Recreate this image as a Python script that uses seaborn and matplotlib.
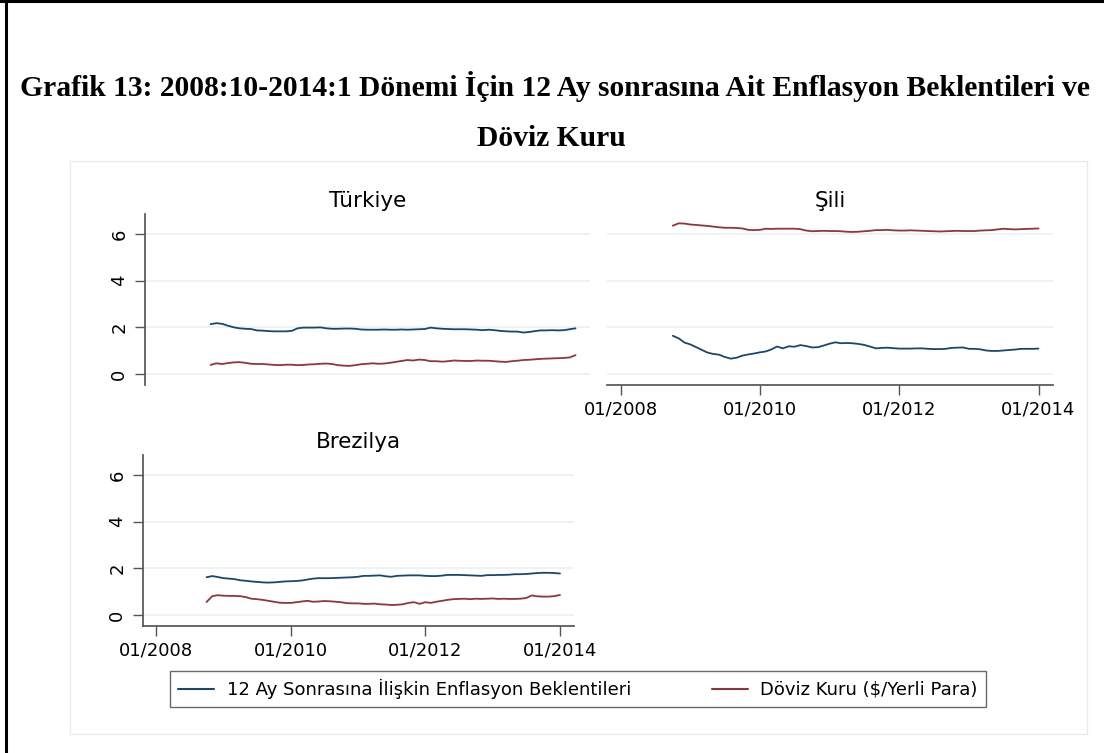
import matplotlib
matplotlib.use("Agg")
import matplotlib.pyplot as plt
from matplotlib.lines import Line2D
from matplotlib.patches import Rectangle
import pandas as pd
import seaborn as sns

# Monthly observations, 2008:10 - 2014:1
start_month = "2008-10-01"
end_month = "2014-01-01"

turkey_exp = [2.14, 2.18, 2.15, 2.07, 2.00, 1.96, 1.94, 1.93, 1.87, 1.86,
              1.84, 1.83, 1.83, 1.83, 1.85, 1.96, 1.99, 1.99, 1.99, 2.00,
              1.96, 1.94, 1.94, 1.95, 1.95, 1.94, 1.91, 1.90, 1.90, 1.90,
              1.91, 1.90, 1.90, 1.91, 1.90, 1.91, 1.92, 1.93, 1.99, 1.96,
              1.94, 1.93, 1.92, 1.92, 1.92, 1.91, 1.90, 1.88, 1.90, 1.88,
              1.85, 1.83, 1.82, 1.82, 1.78, 1.80, 1.84, 1.87, 1.87, 1.88,
              1.87, 1.88, 1.92, 1.96]
turkey_fx = [0.39, 0.46, 0.43, 0.47, 0.50, 0.51, 0.48, 0.44, 0.43, 0.43,
             0.41, 0.39, 0.38, 0.40, 0.40, 0.38, 0.39, 0.41, 0.42, 0.44,
             0.45, 0.43, 0.38, 0.36, 0.35, 0.38, 0.42, 0.44, 0.46, 0.44,
             0.45, 0.48, 0.52, 0.56, 0.60, 0.58, 0.62, 0.60, 0.55, 0.55,
             0.53, 0.55, 0.58, 0.57, 0.56, 0.56, 0.58, 0.57, 0.57, 0.55,
             0.53, 0.52, 0.55, 0.57, 0.60, 0.61, 0.63, 0.65, 0.66, 0.67,
             0.68, 0.69, 0.71, 0.81]

chile_exp = [1.64, 1.53, 1.35, 1.27, 1.15, 1.04, 0.92, 0.86, 0.83, 0.73,
             0.66, 0.70, 0.79, 0.84, 0.88, 0.93, 0.97, 1.05, 1.18, 1.10,
             1.19, 1.17, 1.24, 1.20, 1.14, 1.15, 1.22, 1.30, 1.36, 1.32,
             1.33, 1.32, 1.29, 1.25, 1.18, 1.10, 1.12, 1.13, 1.11, 1.09,
             1.09, 1.09, 1.10, 1.10, 1.08, 1.07, 1.07, 1.08, 1.12, 1.13,
             1.14, 1.08, 1.08, 1.06, 1.01, 0.99, 0.99, 1.01, 1.03, 1.05,
             1.08, 1.08, 1.08, 1.09]
chile_fx = [6.36, 6.46, 6.45, 6.41, 6.39, 6.37, 6.35, 6.32, 6.29, 6.27,
            6.27, 6.26, 6.24, 6.18, 6.17, 6.18, 6.23, 6.22, 6.23, 6.23,
            6.23, 6.23, 6.21, 6.15, 6.12, 6.13, 6.14, 6.13, 6.13, 6.12,
            6.10, 6.09, 6.10, 6.12, 6.14, 6.17, 6.17, 6.18, 6.16, 6.15,
            6.15, 6.16, 6.15, 6.14, 6.13, 6.12, 6.11, 6.12, 6.13, 6.14,
            6.13, 6.13, 6.13, 6.15, 6.16, 6.17, 6.20, 6.23, 6.21, 6.20,
            6.21, 6.22, 6.23, 6.24]

brazil_exp = [1.62, 1.67, 1.63, 1.58, 1.56, 1.54, 1.49, 1.47, 1.44, 1.42,
              1.40, 1.39, 1.40, 1.42, 1.44, 1.45, 1.46, 1.48, 1.52, 1.56,
              1.58, 1.58, 1.58, 1.59, 1.60, 1.61, 1.62, 1.64, 1.68, 1.68,
              1.69, 1.70, 1.66, 1.64, 1.68, 1.69, 1.70, 1.70, 1.70, 1.68,
              1.67, 1.67, 1.69, 1.72, 1.72, 1.72, 1.71, 1.70, 1.69, 1.68,
              1.71, 1.71, 1.72, 1.72, 1.73, 1.75, 1.75, 1.76, 1.78, 1.80,
              1.81, 1.81, 1.80, 1.78]
brazil_fx = [0.56, 0.81, 0.85, 0.83, 0.82, 0.82, 0.81, 0.77, 0.70, 0.68,
             0.65, 0.61, 0.57, 0.53, 0.52, 0.52, 0.55, 0.58, 0.61, 0.57,
             0.58, 0.60, 0.59, 0.57, 0.55, 0.51, 0.50, 0.50, 0.48, 0.48,
             0.49, 0.46, 0.45, 0.43, 0.44, 0.46, 0.52, 0.55, 0.48, 0.55,
             0.52, 0.57, 0.61, 0.65, 0.68, 0.69, 0.70, 0.68, 0.70, 0.69,
             0.70, 0.71, 0.69, 0.70, 0.69, 0.69, 0.70, 0.73, 0.84, 0.80,
             0.79, 0.79, 0.81, 0.86]

countries = ["Türkiye", "Şili", "Brezilya"]
series_labels = ["12 Ay Sonrasına İlişkin Enflasyon Beklentileri",
                 "Döviz Kuru ($/Yerli Para)"]
series_colors = ["#1a476f", "#90353b"]
y_ticks = [0, 2, 4, 6]
x_tick_dates = ["2008-01-01", "2010-01-01", "2012-01-01", "2014-01-01"]
x_tick_labels = ["01/2008", "01/2010", "01/2012", "01/2014"]
title_lines = ["Grafik 13: 2008:10-2014:1 Dönemi İçin 12 Ay sonrasına Ait Enflasyon Beklentileri ve",
               "Döviz Kuru"]

months = pd.date_range(start_month, end_month, freq="MS")
values = {"Türkiye": (turkey_exp, turkey_fx),
          "Şili": (chile_exp, chile_fx),
          "Brezilya": (brazil_exp, brazil_fx)}

frames = []
for c in countries:
    exp, fx = values[c]
    frames.append(pd.DataFrame({"date": months, "value": exp,
                                "series": series_labels[0], "country": c}))
    frames.append(pd.DataFrame({"date": months, "value": fx,
                                "series": series_labels[1], "country": c}))
df = pd.concat(frames, ignore_index=True)

sns.set_theme(style="white")
plt.rcParams["font.family"] = ["DejaVu Sans"]
plt.rcParams["text.color"] = "black"
plt.rcParams["axes.labelcolor"] = "black"
plt.rcParams["xtick.labelcolor"] = "black"
plt.rcParams["ytick.labelcolor"] = "black"

W, H = 1104, 753
fig = plt.figure(figsize=(W / 100, H / 100), dpi=100)
fig.patch.set_facecolor("white")


def px_axes(left, top, right, bottom):
    return fig.add_axes([left / W, 1 - bottom / H, (right - left) / W, (bottom - top) / H])


axes = {
    "Türkiye": px_axes(145, 214, 590, 385),
    "Şili": px_axes(607, 214, 1053, 385),
    "Brezilya": px_axes(143, 455, 574, 626),
}

palette = dict(zip(series_labels, series_colors))
axis_color = "#555555"
grid_color = "#e8eff1"
x_lo = pd.Timestamp("2007-10-22")
x_hi = pd.Timestamp("2014-03-18")

handles, labels = None, None
for c in countries:
    ax = axes[c]
    sub = df[df["country"] == c]
    sns.lineplot(data=sub, x="date", y="value", hue="series",
                 hue_order=series_labels, palette=palette, linewidth=1.3,
                 ax=ax, legend=True)
    if handles is None:
        handles, labels = ax.get_legend_handles_labels()
    ax.get_legend().remove()
    ax.set_xlim(x_lo, x_hi)
    ax.set_ylim(-0.47, 6.86)
    ax.set_xlabel("")
    ax.set_ylabel("")
    ax.set_facecolor("white")
    ax.set_yticks(y_ticks)
    ax.set_yticklabels([str(v) for v in y_ticks], rotation=90, va="center")
    ax.set_xticks([pd.Timestamp(d) for d in x_tick_dates])
    ax.set_xticklabels(x_tick_labels)
    for yv in y_ticks:
        ax.axhline(yv, color=grid_color, lw=1.1, zorder=0)
    for s in ax.spines.values():
        s.set_visible(False)
    ax.tick_params(axis="both", colors=axis_color, labelcolor="black",
                   labelsize=13, length=7, width=1.0, direction="out")
    ax.tick_params(axis="y", pad=5)
    ax.tick_params(axis="x", pad=4)
    ax.set_title(c, fontsize=15.5, pad=5, color="black")

# Türkiye: y axis only
axes["Türkiye"].spines["left"].set_visible(True)
axes["Türkiye"].spines["left"].set_color(axis_color)
axes["Türkiye"].tick_params(axis="x", bottom=False, labelbottom=False)
axes["Türkiye"].tick_params(axis="y", left=True)

# Şili: x axis only
axes["Şili"].spines["bottom"].set_visible(True)
axes["Şili"].spines["bottom"].set_color(axis_color)
axes["Şili"].tick_params(axis="y", left=False, labelleft=False)
axes["Şili"].tick_params(axis="x", bottom=True)

# Brezilya: both axes
axes["Brezilya"].spines["left"].set_visible(True)
axes["Brezilya"].spines["bottom"].set_visible(True)
axes["Brezilya"].spines["left"].set_color(axis_color)
axes["Brezilya"].spines["bottom"].set_color(axis_color)
axes["Brezilya"].tick_params(axis="both", left=True, bottom=True)

# Shared legend beneath the panels
leg = fig.legend(handles, labels, loc="lower left",
                 bbox_to_anchor=(170 / W, 1 - 707 / H, 816 / W, 37 / H),
                 mode="expand", ncol=2, frameon=True, fancybox=False,
                 edgecolor="#444444", fontsize=13, handlelength=2.0,
                 borderaxespad=0, borderpad=0.45, handletextpad=0.7)
leg.get_frame().set_linewidth(1.0)
for ln in leg.get_lines():
    ln.set_linewidth(1.5)

# Light frame around the graph region
fig.patches.append(Rectangle((70 / W, 1 - 734 / H), (1087 - 70) / W, (734 - 161) / H,
                             transform=fig.transFigure, fill=False,
                             edgecolor="#e6ecee", lw=1.0))

# Page border lines
fig.add_artist(Line2D([0, 1], [1 - 1 / H, 1 - 1 / H], transform=fig.transFigure,
                      color="black", lw=2.2))
fig.add_artist(Line2D([6 / W, 6 / W], [0, 1], transform=fig.transFigure,
                      color="black", lw=2.2))

# Heading
fig.text(555 / W, 1 - 86 / H, title_lines[0], ha="center", va="center",
         family="Liberation Serif", fontweight="bold", fontsize=21.3,
         color="black")
fig.text(551 / W, 1 - 138 / H, title_lines[1], ha="center", va="center",
         family="Liberation Serif", fontweight="bold", fontsize=21.3,
         color="black")

fig.savefig("out.png", dpi=100)
